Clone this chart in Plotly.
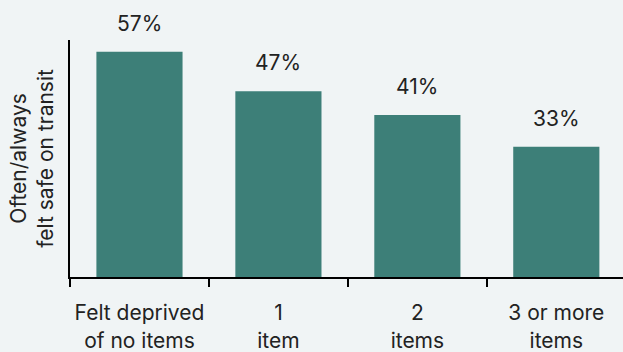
import plotly.graph_objects as go

categories = ["Felt deprived<br>of no items", "1<br>item", "2<br>items", "3 or more<br>items"]
values = [57, 47, 41, 33]
value_labels = ["57%", "47%", "41%", "33%"]
y_title = "Often/always<br>felt safe on transit"

BG = "#f0f4f5"
BAR = "#3d7f78"
TXT = "#222222"
FONT = "Inter, Roboto, sans-serif"
FS = 21

fig = go.Figure()
fig.add_trace(go.Bar(x=categories, y=values, marker_color=BAR, width=0.62,
                     marker_line_width=0, hoverinfo="skip"))

for c, v, t in zip(categories, values, value_labels):
    fig.add_annotation(x=c, y=v, text=t, showarrow=False, yanchor="bottom",
                       yshift=14, font=dict(size=FS, color=TXT, family=FONT))

fig.add_annotation(xref="paper", yref="paper", x=-0.07, y=0.5, text=y_title,
                   textangle=-90, showarrow=False, xanchor="center", yanchor="middle",
                   font=dict(size=FS, color=TXT, family=FONT))

fig.update_layout(
    width=623, height=352,
    margin=dict(l=70, r=0, t=40, b=75),
    paper_bgcolor=BG, plot_bgcolor=BG,
    showlegend=False,
    font=dict(family=FONT, size=FS, color=TXT),
)
fig.update_xaxes(
    range=[-0.5, 3.48], tickson="boundaries", ticks="outside", ticklen=8,
    tickwidth=2, tickcolor="black", showline=True, linecolor="black", linewidth=2,
    tickangle=0, ticklabelstandoff=16,
    tickfont=dict(size=FS, color=TXT, family=FONT), showgrid=False, automargin=False,
)
fig.update_yaxes(
    range=[0, 60], showline=True, linecolor="black", linewidth=2,
    showticklabels=False, ticks="", showgrid=False, zeroline=False, automargin=False,
)

fig.write_html("out.html", config={"displayModeBar": False},
               post_script="document.body.style.margin='0';document.body.style.overflow='hidden';")
